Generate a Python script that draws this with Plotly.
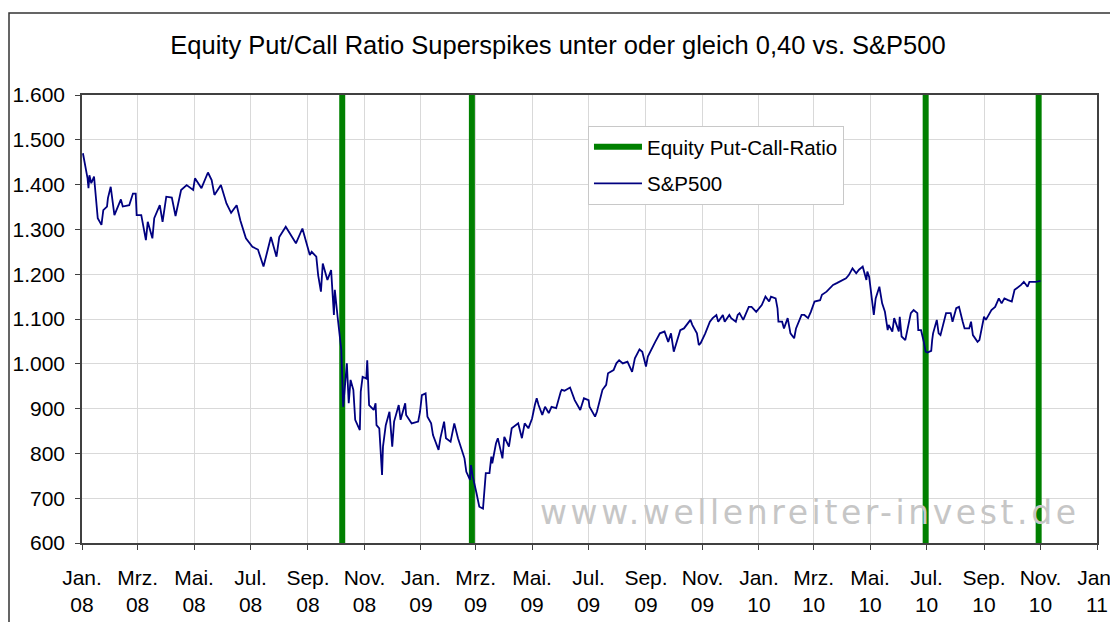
import plotly.graph_objects as go

# ---------------- data ----------------
spx_dates = [
    "2008-01-02", "2008-01-07", "2008-01-08", "2008-01-09", "2008-01-11", "2008-01-14", "2008-01-18",
    "2008-01-22", "2008-01-24", "2008-01-28", "2008-01-29", "2008-02-01", "2008-02-05", "2008-02-12",
    "2008-02-14", "2008-02-21", "2008-02-25", "2008-02-28", "2008-02-29", "2008-03-05", "2008-03-10",
    "2008-03-12", "2008-03-17", "2008-03-19", "2008-03-25", "2008-03-28", "2008-04-01", "2008-04-07",
    "2008-04-11", "2008-04-17", "2008-04-23", "2008-04-30", "2008-05-02", "2008-05-09", "2008-05-16",
    "2008-05-20", "2008-05-23", "2008-05-30", "2008-06-05", "2008-06-10", "2008-06-16", "2008-06-20",
    "2008-06-26", "2008-07-03", "2008-07-09", "2008-07-15", "2008-07-23", "2008-07-29", "2008-08-01",
    "2008-08-08", "2008-08-19", "2008-08-26", "2008-09-03", "2008-09-05", "2008-09-10", "2008-09-12",
    "2008-09-15", "2008-09-17", "2008-09-22", "2008-09-26", "2008-09-29", "2008-09-30", "2008-10-03",
    "2008-10-07", "2008-10-09", "2008-10-13", "2008-10-15", "2008-10-17", "2008-10-20", "2008-10-22",
    "2008-10-27", "2008-10-28", "2008-10-30", "2008-11-03", "2008-11-04", "2008-11-06", "2008-11-11",
    "2008-11-13", "2008-11-14", "2008-11-17", "2008-11-20", "2008-11-21", "2008-11-24", "2008-11-28",
    "2008-12-01", "2008-12-03", "2008-12-08", "2008-12-10", "2008-12-15", "2008-12-16", "2008-12-22",
    "2008-12-29", "2008-12-31", "2009-01-02", "2009-01-06", "2009-01-08", "2009-01-12", "2009-01-14",
    "2009-01-20", "2009-01-22", "2009-01-26", "2009-01-28", "2009-02-02", "2009-02-06", "2009-02-10",
    "2009-02-17", "2009-02-19", "2009-02-23", "2009-02-24", "2009-02-26", "2009-03-02", "2009-03-03",
    "2009-03-05", "2009-03-09", "2009-03-12", "2009-03-16", "2009-03-18", "2009-03-19", "2009-03-23",
    "2009-03-25", "2009-03-30", "2009-04-01", "2009-04-06", "2009-04-09", "2009-04-14", "2009-04-16",
    "2009-04-20", "2009-04-23", "2009-04-27", "2009-05-01", "2009-05-04", "2009-05-06", "2009-05-08",
    "2009-05-12", "2009-05-15", "2009-05-19", "2009-05-22", "2009-05-27", "2009-06-01", "2009-06-02",
    "2009-06-05", "2009-06-11", "2009-06-16", "2009-06-22", "2009-06-26", "2009-07-01", "2009-07-02",
    "2009-07-08", "2009-07-10", "2009-07-16", "2009-07-20", "2009-07-22", "2009-07-28", "2009-07-31",
    "2009-08-03", "2009-08-07", "2009-08-12", "2009-08-17", "2009-08-20", "2009-08-25", "2009-08-28",
    "2009-09-01", "2009-09-03", "2009-09-08", "2009-09-11", "2009-09-16", "2009-09-21", "2009-09-25",
    "2009-09-28", "2009-10-01", "2009-10-08", "2009-10-12", "2009-10-19", "2009-10-21", "2009-10-26",
    "2009-10-28", "2009-10-30", "2009-11-04", "2009-11-09", "2009-11-12", "2009-11-16", "2009-11-18",
    "2009-11-23", "2009-11-25", "2009-11-30", "2009-12-02", "2009-12-07", "2009-12-09", "2009-12-11",
    "2009-12-15", "2009-12-18", "2009-12-21", "2009-12-24", "2009-12-29", "2010-01-04", "2010-01-06",
    "2010-01-08", "2010-01-12", "2010-01-14", "2010-01-19", "2010-01-21", "2010-01-22", "2010-01-26",
    "2010-01-28", "2010-02-01", "2010-02-04", "2010-02-08", "2010-02-10", "2010-02-16", "2010-02-19",
    "2010-02-23", "2010-02-26", "2010-03-02", "2010-03-08", "2010-03-10", "2010-03-15", "2010-03-17",
    "2010-03-22", "2010-03-26", "2010-04-01", "2010-04-05", "2010-04-08", "2010-04-12", "2010-04-16",
    "2010-04-19", "2010-04-23", "2010-04-27", "2010-04-28", "2010-04-30", "2010-05-05", "2010-05-07",
    "2010-05-11", "2010-05-14", "2010-05-17", "2010-05-20", "2010-05-21", "2010-05-25", "2010-05-27",
    "2010-06-01", "2010-06-02", "2010-06-04", "2010-06-08", "2010-06-10", "2010-06-14", "2010-06-17",
    "2010-06-21", "2010-06-22", "2010-06-25", "2010-06-28", "2010-06-30", "2010-07-02", "2010-07-06",
    "2010-07-07", "2010-07-08", "2010-07-12", "2010-07-14", "2010-07-16", "2010-07-20", "2010-07-22",
    "2010-07-27", "2010-07-29", "2010-08-02", "2010-08-05", "2010-08-09", "2010-08-11", "2010-08-16",
    "2010-08-18", "2010-08-20", "2010-08-25", "2010-08-27", "2010-08-31", "2010-09-01", "2010-09-03",
    "2010-09-09", "2010-09-13", "2010-09-17", "2010-09-20", "2010-09-23", "2010-09-27", "2010-10-01",
    "2010-10-04", "2010-10-07", "2010-10-11", "2010-10-14", "2010-10-18", "2010-10-20", "2010-10-22",
    "2010-10-27", "2010-11-01",
]
spx_values = [
    1470, 1414, 1392, 1421, 1403, 1418, 1325,
    1310, 1343, 1351, 1370, 1395, 1332, 1367,
    1351, 1354, 1380, 1380, 1332, 1332, 1276,
    1317, 1280, 1325, 1354, 1317, 1373, 1371,
    1330, 1388, 1399, 1388, 1414, 1392, 1427,
    1410, 1377, 1399, 1358, 1337, 1354, 1320,
    1280, 1261, 1255, 1217, 1283, 1239, 1283,
    1306, 1269, 1302, 1243, 1250, 1239, 1198,
    1161, 1224, 1187, 1209, 1109, 1165, 1105,
    1031, 904, 1001, 912, 964, 942, 875,
    852, 938, 971, 967, 1008, 908, 897,
    912, 863, 856, 752, 815, 863, 893,
    815, 871, 908, 875, 912, 886, 867,
    871, 893, 930, 934, 882, 867, 841,
    808, 834, 871, 834, 826, 867, 834,
    789, 759, 741, 774, 748, 711, 700,
    681, 677, 756, 756, 793, 778, 822,
    834, 789, 837, 815, 856, 863, 867,
    834, 867, 856, 878, 908, 923, 908,
    886, 904, 890, 904, 901, 938, 942,
    940, 947, 919, 897, 923, 919, 904,
    882, 893, 942, 953, 979, 986, 1001,
    1008, 1001, 1005, 982, 1012, 1032, 1027,
    994, 1016, 1038, 1049, 1068, 1072, 1049,
    1068, 1027, 1075, 1079, 1098, 1087, 1068,
    1042, 1046, 1068, 1094, 1102, 1109, 1094,
    1109, 1094, 1109, 1102, 1094, 1109, 1113,
    1098, 1113, 1127, 1127, 1116, 1131, 1139,
    1150, 1139, 1150, 1146, 1124, 1094, 1094,
    1079, 1102, 1068, 1057, 1079, 1109, 1109,
    1102, 1116, 1139, 1142, 1154, 1161, 1165,
    1176, 1180, 1187, 1191, 1198, 1213, 1202,
    1210, 1217, 1187, 1206, 1194, 1109, 1146,
    1172, 1135, 1116, 1075, 1087, 1072, 1102,
    1072, 1105, 1061, 1053, 1075, 1113, 1120,
    1113, 1075, 1075, 1049, 1027, 1025, 1029,
    1053, 1068, 1098, 1068, 1064, 1098, 1113,
    1113, 1094, 1124, 1127, 1094, 1079, 1079,
    1094, 1064, 1049, 1053, 1090, 1105, 1098,
    1120, 1127, 1146, 1135, 1146, 1142, 1139,
    1165, 1169, 1176, 1183, 1172, 1183, 1183,
    1183, 1185,
]

# Equity put/call ratio superspikes (<= 0.40)
spike_dates = ["2008-10-08", "2009-02-25", "2010-06-30", "2010-10-30"]

y_range = [600, 1600]
y_tickvals = [600, 700, 800, 900, 1000, 1100, 1200, 1300, 1400, 1500, 1600]
y_ticktext = ["600", "700", "800", "900", "1.000", "1.100", "1.200", "1.300", "1.400", "1.500", "1.600"]

x_tickvals = ["2008-01-01", "2008-03-01", "2008-05-01", "2008-07-01", "2008-09-01", "2008-11-01",
              "2009-01-01", "2009-03-01", "2009-05-01", "2009-07-01", "2009-09-01", "2009-11-01",
              "2010-01-01", "2010-03-01", "2010-05-01", "2010-07-01", "2010-09-01", "2010-11-01",
              "2011-01-01"]
x_months = ["Jan.", "Mrz.", "Mai.", "Jul.", "Sep.", "Nov."] * 3 + ["Jan."]
x_years = ["08"] * 6 + ["09"] * 6 + ["10"] * 6 + ["11"]
x_ticktext = [f"{m}<br>{y}" for m, y in zip(x_months, x_years)]

title_text = "Equity Put/Call Ratio Superspikes unter oder gleich 0,40 vs. S&P500"
watermark = "www.wellenreiter-invest.de"

# ---------------- figure ----------------
FONT = "Arial, 'Liberation Sans', sans-serif"
# the page body has a default 8px margin, so the figure is drawn 8px smaller
W, H = 1110, 614
ML, MT, MR, MB = 74, 87, 21, 79

spike_x, spike_y = [], []
for d in spike_dates:
    spike_x += [d, d, None]
    spike_y += [y_range[0], y_range[1], None]

fig = go.Figure()
fig.add_trace(go.Scatter(
    x=spike_x, y=spike_y, mode="lines", name="Equity Put-Call-Ratio",
    line=dict(color="#008000", width=6), legendgroup="a", hoverinfo="skip",
))
fig.add_trace(go.Scatter(
    x=spx_dates, y=spx_values, mode="lines", name="S&P500",
    line=dict(color="#000080", width=1.8), legendgroup="b",
))

fig.update_layout(
    width=W, height=H,
    margin=dict(l=ML, r=MR, t=MT, b=MB, autoexpand=False),
    paper_bgcolor="white", plot_bgcolor="white",
    font=dict(family=FONT, size=21, color="black"),
    title=dict(text=title_text, x=550 / W, xanchor="center", y=1 - 37 / H, yanchor="middle",
               yref="container", font=dict(family=FONT, size=25.5, color="black")),
    showlegend=True,
    legend=dict(x=0.4985, y=0.931, xanchor="left", yanchor="top",
                bgcolor="white", bordercolor="#c8c8c8", borderwidth=1,
                font=dict(family=FONT, size=20.5, color="black"),
                itemwidth=48,
                traceorder="grouped", tracegroupgap=7),
    xaxis=dict(
        type="date", range=["2008-01-01", "2011-01-01"], automargin=False,
        tickmode="array", tickvals=x_tickvals, ticktext=x_ticktext,
        showgrid=True, gridcolor="#d9d9d9", gridwidth=1,
        showline=True, linecolor="#404040", linewidth=1.5, mirror=True,
        ticks="outside", ticklen=5, tickcolor="#404040", tickwidth=1.2,
        tickfont=dict(family=FONT, size=21, color="black"),
        ticklabelstandoff=10,
        zeroline=False,
    ),
    yaxis=dict(
        range=y_range, tickmode="array", tickvals=y_tickvals, ticktext=y_ticktext,
        automargin=False,
        showgrid=True, gridcolor="#d9d9d9", gridwidth=1,
        showline=True, linecolor="#404040", linewidth=1.5, mirror=True,
        ticks="outside", ticklen=5, tickcolor="#404040", tickwidth=1.2,
        tickfont=dict(family=FONT, size=21, color="black"),
        ticklabelstandoff=6,
        zeroline=False,
    ),
    shapes=[dict(type="rect", xref="paper", yref="paper",
                 x0=(1 - ML) / 1015, x1=1.3, y0=-0.6, y1=(535 - 5) / 448,
                 line=dict(color="#333333", width=1.5), fillcolor="rgba(0,0,0,0)", layer="below")],
    annotations=[dict(
        text=f'<span style="letter-spacing:3.6px">{watermark}</span>',
        xref="paper", yref="paper", x=(802 - ML) / 1015, y=(535 - 504) / 448,
        xanchor="center", yanchor="middle", showarrow=False,
        font=dict(family="'DejaVu Sans', sans-serif", size=33, color="#c6c6c6"),
    )],
)

fig.write_html("out.html")
